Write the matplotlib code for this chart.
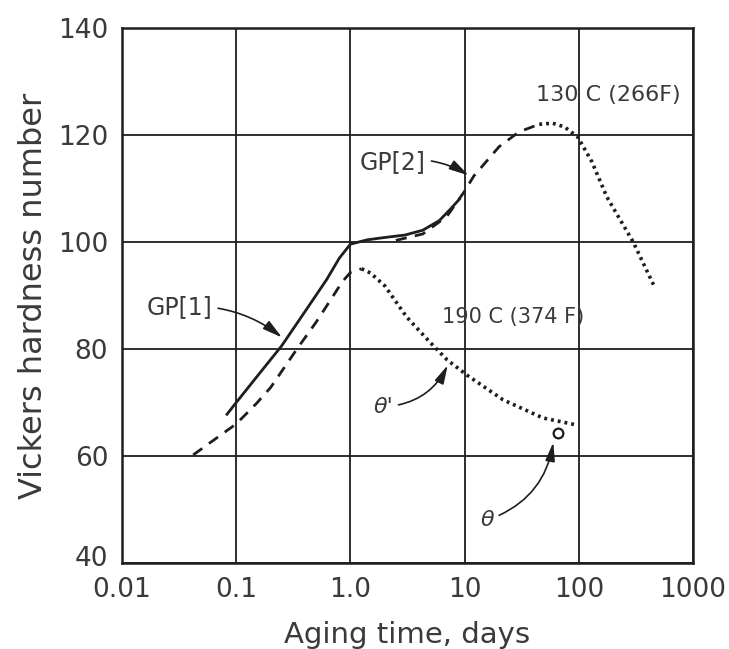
import matplotlib
matplotlib.use('Agg')
import matplotlib.pyplot as plt
import matplotlib.transforms as mtransforms
from matplotlib.ticker import NullLocator

# 190 C (374 F): GP[2] rise, then theta' overaging
t190_gp2 = [0.042, 0.06, 0.1, 0.15, 0.2, 0.34, 0.5, 0.7, 0.85, 1.0, 1.25]
hv190_gp2 = [60.2, 62.6, 66.0, 69.8, 72.8, 80.0, 85.0, 89.8, 92.6, 94.3, 95.0]
t190_theta = [1.25, 1.5, 2.0, 3.1, 5.0, 7.0, 10.5, 21.7, 48.6, 96.0]
hv190_theta = [95.0, 94.2, 91.8, 86.0, 81.2, 78.0, 75.1, 70.5, 67.1, 65.8]

# 130 C (266 F): GP[1], GP[2], then theta'
t130_gp1 = [0.083, 0.1, 0.15, 0.25, 0.4, 0.62, 0.8, 1.0, 1.4, 1.93, 3.0, 4.3,
            6.0, 7.4, 9.0]
hv130_gp1 = [67.8, 70.0, 74.7, 80.6, 87.0, 93.0, 97.0, 99.6, 100.4, 100.8,
             101.3, 102.2, 104.0, 106.0, 108.0]
t130_gp2 = [2.5, 4.3, 7.0, 10.0, 12.0, 20.0, 30.0, 45.0]
hv130_gp2 = [100.3, 101.5, 104.8, 109.5, 112.3, 117.8, 120.6, 122.0]
t130_theta = [45.0, 59.0, 75.0, 98.0, 130.0, 176.0, 299.0, 465.0]
hv130_theta = [122.0, 122.2, 121.5, 119.6, 115.0, 108.4, 100.0, 91.4]

# first appearance of theta at 190 C
theta_t = [66.0]
theta_hv = [64.3]

xticks = [0.01, 0.1, 1.0, 10, 100, 1000]
xtick_labels = ['0.01', '0.1', '1.0', '10', '100', '1000']
yticks = [40, 60, 80, 100, 120, 140]

ink = '#1e1e1e'
text_color = '#3a3a3a'

fig = plt.figure(figsize=(7.29, 6.49), dpi=100)
ax = fig.add_axes([0.1674, 0.1325, 0.7833, 0.8244])

ax.set_xscale('log')
ax.set_xlim(0.01, 1000)
ax.set_ylim(40, 140)
ax.set_xticks(xticks)
ax.set_xticklabels(xtick_labels)
ax.set_yticks(yticks)
ax.xaxis.set_minor_locator(NullLocator())
ax.tick_params(length=0, labelsize=19, labelcolor=text_color)
ax.tick_params(axis='x', pad=10)
ax.tick_params(axis='y', pad=10)
ax.grid(True, color=ink, lw=1.3)
ax.set_axisbelow(True)
for sp in ax.spines.values():
    sp.set_linewidth(1.8)
    sp.set_color(ink)
# the bottom y label sits a little high, as in the original drawing
lab40 = ax.get_yticklabels()[0]
lab40.set_transform(lab40.get_transform() +
                    mtransforms.ScaledTranslation(0, 5 / 72, fig.dpi_scale_trans))

ax.set_xlabel('Aging time, days', fontsize=21, color=text_color)
ax.xaxis.set_label_coords(0.5, -0.108)
ax.set_ylabel('Vickers hardness number', fontsize=23, color=text_color)
ax.yaxis.set_label_coords(-0.128, 0.5)

dots = (0, (0.8, 1.1))
ax.plot(t190_gp2, hv190_gp2, color=ink, lw=2.0, ls=(0, (4, 3)))
ax.plot(t190_theta, hv190_theta, color=ink, lw=2.6, ls=dots)
ax.plot(t130_gp1, hv130_gp1, color=ink, lw=2.0)
ax.plot(t130_gp2, hv130_gp2, color=ink, lw=2.0, ls=(0, (4, 3)))
ax.plot(t130_theta, hv130_theta, color=ink, lw=2.6, ls=dots)
ax.plot(theta_t, theta_hv, 'o', ms=7, mfc='white', mec=ink, mew=1.6)

arrow = dict(arrowstyle='-|>,head_length=0.7,head_width=0.18', color=ink,
             lw=1.2, shrinkA=2, shrinkB=1)
ax.annotate('GP[1]', xy=(0.257, 82.0), xytext=(0.032, 87.9), fontsize=17,
            color=text_color, ha='center', va='center',
            arrowprops=dict(arrow, connectionstyle='arc3,rad=-0.2'))
ax.annotate('GP[2]', xy=(11.1, 112.3), xytext=(2.36, 115.0), fontsize=17,
            color=text_color, ha='center', va='center',
            arrowprops=dict(arrow, connectionstyle='arc3,rad=-0.2'))
ax.annotate("θ'", xy=(7.2, 77.2), xytext=(1.93, 69.2), fontsize=16,
            color=text_color, ha='center', va='center', style='italic',
            arrowprops=dict(arrow, connectionstyle='arc3,rad=0.3'))
ax.annotate('θ', xy=(60.0, 62.8), xytext=(15.7, 48.0), fontsize=16,
            color=text_color, ha='center', va='center', style='italic',
            arrowprops=dict(arrow, connectionstyle='arc3,rad=0.3'))

ax.text(180, 127.5, '130 C (266F)', fontsize=16, color=text_color,
        ha='center', va='center')
ax.text(26.6, 86.0, '190 C (374 F)', fontsize=15, color=text_color,
        ha='center', va='center')

fig.savefig('out.png', dpi=100)
